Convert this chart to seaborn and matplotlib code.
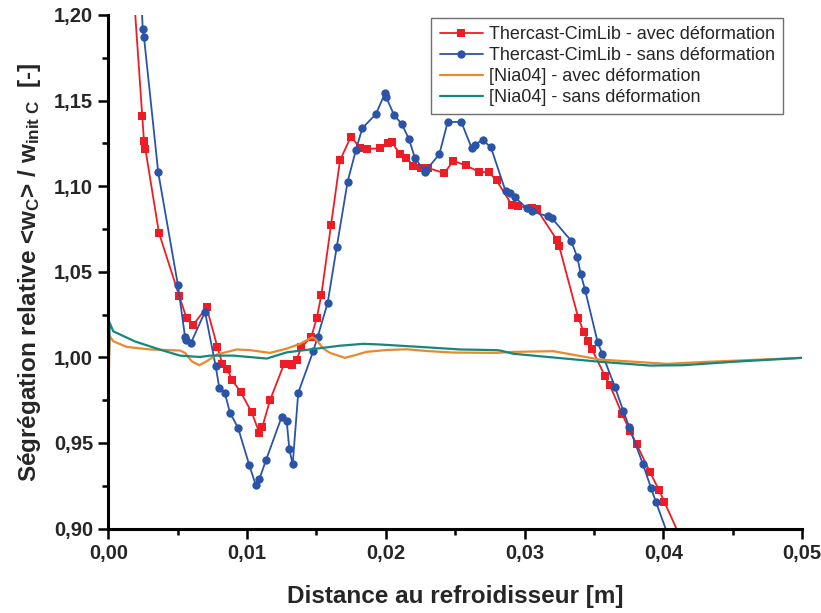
import matplotlib
matplotlib.use("Agg")
import matplotlib.pyplot as plt
from matplotlib.ticker import MultipleLocator, FuncFormatter
import seaborn as sns
import pandas as pd

# Thercast-CimLib, with deformation (square markers)
red_x = [0.00157, 0.00245, 0.00257, 0.00267, 0.00365, 0.00510, 0.00565, 0.00608,
         0.00709, 0.00786, 0.00822, 0.00856, 0.00894, 0.00954, 0.01034, 0.01088,
         0.01110, 0.01165, 0.01268, 0.01310, 0.01326, 0.01358, 0.01391, 0.01463,
         0.01502, 0.01535, 0.01605, 0.01670, 0.01749, 0.01814, 0.01862, 0.01958,
         0.02018, 0.02043, 0.02102, 0.02146, 0.02198, 0.02252, 0.02306, 0.02422,
         0.02486, 0.02576, 0.02672, 0.02744, 0.02799, 0.02907, 0.02955, 0.03052,
         0.03088, 0.03232, 0.03250, 0.03387, 0.03428, 0.03459, 0.03484, 0.03580,
         0.03616, 0.03704, 0.03760, 0.03808, 0.03904, 0.03969, 0.04007, 0.04178]
red_y = [1.2438, 1.1407, 1.1265, 1.1218, 1.0728, 1.0361, 1.0227, 1.0186,
         1.0292, 1.0061, 0.9962, 0.9933, 0.9865, 0.9798, 0.9678, 0.9560,
         0.9592, 0.9748, 0.9964, 0.9962, 0.9958, 0.9987, 1.0059, 1.0120,
         1.0227, 1.0362, 1.0771, 1.1150, 1.1290, 1.1222, 1.1216, 1.1222,
         1.1251, 1.1257, 1.1187, 1.1167, 1.1119, 1.1106, 1.1106, 1.1076,
         1.1148, 1.1121, 1.1084, 1.1080, 1.1033, 1.0892, 1.0882, 1.0872,
         1.0866, 1.0687, 1.0648, 1.0231, 1.0147, 1.0098, 1.0050, 0.9890,
         0.9836, 0.9667, 0.9569, 0.9492, 0.9330, 0.9225, 0.9157, 0.8850]

# Thercast-CimLib, without deformation (circle markers)
blue_x = [0.00221, 0.00248, 0.00257, 0.00360, 0.00502, 0.00553, 0.00560, 0.00594,
          0.00697, 0.00774, 0.00800, 0.00841, 0.00877, 0.00935, 0.01016, 0.01062,
          0.01088, 0.01137, 0.01250, 0.01286, 0.01305, 0.01329, 0.01369, 0.01477,
          0.01509, 0.01581, 0.01646, 0.01725, 0.01785, 0.01831, 0.01929, 0.01994,
          0.02001, 0.02061, 0.02115, 0.02167, 0.02210, 0.02285, 0.02290, 0.02386,
          0.02446, 0.02544, 0.02619, 0.02643, 0.02698, 0.02758, 0.02864, 0.02895,
          0.02931, 0.03015, 0.03052, 0.03171, 0.03196, 0.03335, 0.03380, 0.03405,
          0.03436, 0.03527, 0.03560, 0.03652, 0.03712, 0.03755, 0.03852, 0.03911,
          0.03947, 0.04084]
blue_y = [1.2438, 1.1918, 1.1873, 1.1080, 1.0421, 1.0120, 1.0104, 1.0081,
          1.0266, 0.9948, 0.9822, 0.9789, 0.9676, 0.9589, 0.9371, 0.9256,
          0.9287, 0.9400, 0.9653, 0.9627, 0.9462, 0.9375, 0.9793, 1.0036,
          1.0120, 1.0318, 1.0642, 1.1027, 1.1212, 1.1339, 1.1421, 1.1543,
          1.1523, 1.1413, 1.1364, 1.1275, 1.1164, 1.1082, 1.1092, 1.1187,
          1.1374, 1.1376, 1.1222, 1.1242, 1.1271, 1.1226, 1.0969, 1.0960,
          1.0934, 1.0872, 1.0852, 1.0823, 1.0814, 1.0682, 1.0586, 1.0487,
          1.0395, 1.0088, 1.0021, 0.9826, 0.9686, 0.9592, 0.9379, 0.9239,
          0.9155, 0.8850]

# [Nia04], with deformation
orange_x = [0.0, 0.0001, 0.00036, 0.00133, 0.00301, 0.00517, 0.00553, 0.00601,
            0.00656, 0.00709, 0.00781, 0.00925, 0.01021, 0.01165, 0.01286, 0.01382,
            0.01470, 0.01497, 0.01550, 0.01598, 0.01706, 0.01766, 0.01862, 0.02006,
            0.02151, 0.02295, 0.02486, 0.02799, 0.02919, 0.03207, 0.03544, 0.04024,
            0.04265, 0.05]
orange_y = [0.9773, 1.0125, 1.0094, 1.0061, 1.0046, 1.0040, 1.0026, 0.9977,
            0.9954, 0.9977, 1.0016, 1.0046, 1.0042, 1.0026, 1.0051, 1.0079,
            1.0117, 1.0104, 1.0051, 1.0026, 0.9997, 1.0010, 1.0032, 1.0043,
            1.0047, 1.0037, 1.0028, 1.0026, 1.0032, 1.0036, 0.9987, 0.9962,
            0.9972, 0.9997]

# [Nia04], without deformation
teal_x = [0.0, 0.0001, 0.00036, 0.00192, 0.00373, 0.00517, 0.00661, 0.00733,
          0.00901, 0.01142, 0.01286, 0.01502, 0.01670, 0.01838, 0.01958, 0.02246,
          0.02535, 0.02799, 0.02823, 0.02919, 0.03183, 0.03544, 0.03904, 0.04144,
          0.04505, 0.05]
teal_y = [0.9851, 1.0201, 1.0152, 1.0093, 1.0045, 1.0010, 1.0002, 1.0010,
          1.0010, 0.9993, 1.0029, 1.0051, 1.0068, 1.0079, 1.0075, 1.0061,
          1.0046, 1.0042, 1.0040, 1.0021, 1.0001, 0.9974, 0.9952, 0.9954,
          0.9974, 0.9997]

labels = ["Thercast-CimLib - avec déformation",
          "Thercast-CimLib - sans déformation",
          "[Nia04] - avec déformation",
          "[Nia04] - sans déformation"]

sns.set_theme(style="ticks")
plt.rcParams["font.family"] = ["Liberation Sans", "DejaVu Sans"]
plt.rcParams["mathtext.fontset"] = "custom"
plt.rcParams["mathtext.rm"] = "Liberation Sans"
plt.rcParams["mathtext.it"] = "Liberation Sans"
plt.rcParams["mathtext.bf"] = "Liberation Sans:bold"

fig = plt.figure(figsize=(8.21, 6.13), dpi=100)
ax = fig.add_axes([0.1319, 0.1378, 0.8450, 0.8378])

series = [
    (red_x, red_y, labels[0], "#ee1c25", "s", 5.5, 1.3),
    (blue_x, blue_y, labels[1], "#2a54a8", "o", 6.0, 1.3),
    (orange_x, orange_y, labels[2], "#e8892e", None, 0, 1.6),
    (teal_x, teal_y, labels[3], "#16877e", None, 0, 1.6),
]
for xs, ys, lab, col, mk, ms, lw in series:
    df = pd.DataFrame({"x": xs, "y": ys})
    kw = dict(marker=mk, markersize=ms, markeredgewidth=0) if mk else {}
    sns.lineplot(data=df, x="x", y="y", ax=ax, color=col, linewidth=lw,
                 label=lab, sort=False, estimator=None, **kw)

ax.set_xlim(0, 0.05)
ax.set_ylim(0.90, 1.20)
ax.xaxis.set_major_locator(MultipleLocator(0.01))
ax.xaxis.set_minor_locator(MultipleLocator(0.005))
ax.yaxis.set_major_locator(MultipleLocator(0.05))
ax.yaxis.set_minor_locator(MultipleLocator(0.025))
comma = FuncFormatter(lambda v, p: f"{v:.2f}".replace(".", ","))
ax.xaxis.set_major_formatter(comma)
ax.yaxis.set_major_formatter(comma)

for s in ("top", "right"):
    ax.spines[s].set_visible(False)
for s in ("left", "bottom"):
    ax.spines[s].set_linewidth(2.2)
    ax.spines[s].set_color("black")

ax.tick_params(which="major", direction="out", length=7, width=1.8,
               color="black", labelsize=14.5, pad=4)
ax.tick_params(which="minor", direction="out", length=4, width=1.8, color="black")
for t in ax.get_xticklabels() + ax.get_yticklabels():
    t.set_fontweight("bold")

ax.set_xlabel("Distance au refroidisseur [m]", fontsize=17.5,
              fontweight="bold", labelpad=16)
ax.set_ylabel(r"Ségrégation relative <w$_\mathregular{C}$> / w$_\mathregular{init\ C}$  [-]",
              fontsize=17.5, fontweight="bold", labelpad=8)

leg = ax.legend(loc="upper right", bbox_to_anchor=(0.973, 0.994),
                borderaxespad=0, fontsize=13, frameon=True, fancybox=False,
                handlelength=2.4, handletextpad=0.35, labelspacing=0.22,
                borderpad=0.45)
leg.get_frame().set_edgecolor("#6e6e6e")
leg.get_frame().set_linewidth(1.0)
leg.get_frame().set_alpha(1)

fig.savefig("out.png", dpi=100)
